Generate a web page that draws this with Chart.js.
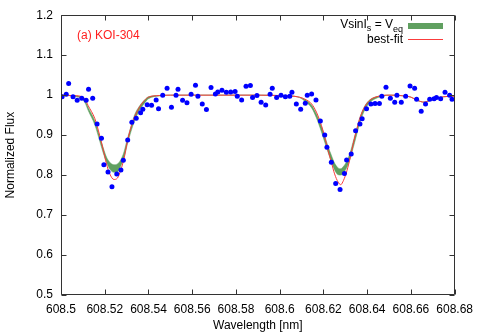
<!DOCTYPE html>
<html><head><meta charset="utf-8">
<script src="https://cdn.jsdelivr.net/npm/chart.js@4"></script>
<style>html,body{margin:0;padding:0;background:#fff}#wrap{width:480px;height:336px;position:relative}</style>
</head><body><div id="wrap"><canvas id="c" width="480" height="336"></canvas></div>
<script>
// observed spectrum
const obsWave = [608.5005,608.5024,608.5035,608.5055,608.5074,608.5095,608.5115,608.5126,608.5145,608.5165,
608.5185,608.5196,608.5215,608.5233,608.5255,608.5274,608.5285,608.5305,608.5324,608.5344,
608.5364,608.5374,608.5394,608.5414,608.5435,608.5446,608.5465,608.5485,608.5505,608.5526,
608.5535,608.5556,608.5576,608.5595,608.5615,608.5626,608.5646,608.5665,608.5686,608.5706,
608.5717,608.5736,608.5756,608.5776,608.5796,608.5806,608.5826,608.5846,608.5866,608.5876,
608.5896,608.5915,608.5936,608.5956,608.5966,608.5986,608.6006,608.6026,608.6046,608.6056,
608.6076,608.6096,608.6117,608.6126,608.6146,608.6166,608.6186,608.6206,608.6216,608.6236,
608.6256,608.6276,608.6296,608.6306,608.6327,608.6347,608.6367,608.6377,608.6397,608.6417,
608.6436,608.6456,608.6467,608.6486,608.6506,608.6526,608.6536,608.6556,608.6576,608.6596,
608.6617,608.6626,608.6647,608.6667,608.6686,608.6706,608.6717,608.6736,608.6756,608.6777,
608.6788];
const obsFlux = [0.996,1.0025,1.029,0.996,0.987,0.992,0.9875,1.015,0.992,0.9275,
0.892,0.826,0.808,0.771,0.803,0.8125,0.837,0.8875,0.932,0.9425,
0.956,0.965,0.976,0.975,0.988,0.966,1.0,1.017,0.97,1.0,
1.015,0.9875,0.981,1.0025,1.025,0.997,0.978,0.964,1.019,1.003,
1.008,1.0125,1.007,1.008,1.009,0.9975,0.988,1.022,1.024,0.994,
0.999,0.9825,0.9755,1.002,1.017,0.994,1.0,0.996,0.9975,1.0075,
0.978,0.965,0.98,0.9995,1.003,0.988,0.935,0.9005,0.8695,0.832,
0.779,0.764,0.804,0.838,0.8525,0.911,0.9275,0.941,0.966,0.978,
0.979,0.979,0.997,1.0195,0.9925,0.982,1.0,0.982,0.997,1.023,
1.017,0.99,0.96,0.978,0.99,0.991,0.994,0.991,1.007,1.0,
0.9895];

// model curves
const fitWave = [608.5,608.505,608.509,608.5109,608.5124,608.5155,608.5177,608.5192,608.5208,608.5223,
608.5242,608.5258,608.5273,608.5288,608.5303,608.5318,608.5336,608.5359,608.5382,608.54,
608.545,608.55,608.56,608.57,608.58,608.59,608.60,608.605,608.609,608.6115,
608.6146,608.6168,608.6191,608.6206,608.6221,608.6236,608.6251,608.6267,608.6279,608.6292,
608.6308,608.6323,608.6338,608.6353,608.6368,608.6388,608.6411,608.645,608.65,608.655,
608.66,608.663,608.666,608.669,608.672,608.675,608.68];
const fitBest = [1.0,0.999,0.997,0.991,0.974,0.941,0.899,0.866,0.828,0.803,
0.789,0.7925,0.812,0.841,0.8825,0.916,0.945,0.97,0.987,0.995,
0.999,1.0,1.0,1.0,1.0,1.0,0.999,0.998,0.995,0.990,
0.978,0.9575,0.924,0.895,0.862,0.8325,0.803,0.7825,0.776,0.787,
0.812,0.845,0.8825,0.916,0.945,0.97,0.987,0.997,1.0,0.999,
0.995,0.987,0.9825,0.9875,0.9925,0.996,0.9975];
const bandHi = [1.0,0.999,0.996,0.988,0.970,0.935,0.897,0.870,0.845,0.832,
0.826,0.828,0.838,0.858,0.890,0.918,0.950,0.973,0.988,0.996,
0.999,1.0,1.0,1.0,1.0,1.0,0.999,0.998,0.995,0.989,
0.975,0.953,0.922,0.898,0.872,0.850,0.830,0.818,0.816,0.822,
0.836,0.858,0.888,0.917,0.946,0.972,0.988,0.997,1.0,0.999,
0.995,0.987,0.9825,0.9875,0.9925,0.996,0.9975];
const bandLo = [1.0,0.998,0.992,0.982,0.962,0.925,0.885,0.857,0.832,0.815,
0.807,0.808,0.822,0.843,0.876,0.905,0.935,0.962,0.980,0.991,
0.998,1.0,1.0,1.0,1.0,1.0,0.999,0.998,0.994,0.985,
0.968,0.943,0.908,0.882,0.857,0.834,0.813,0.801,0.800,0.806,
0.820,0.842,0.872,0.903,0.933,0.962,0.981,0.994,1.0,0.999,
0.995,0.987,0.9825,0.9875,0.9925,0.996,0.9975];

// ticks
const xTicks = [608.5,608.52,608.54,608.56,608.58,608.6,608.62,608.64,608.66,608.68];
const xTickLabels = ['608.5','608.52','608.54','608.56','608.58','608.6','608.62','608.64','608.66','608.68'];
const yTicks = [0.5,0.6,0.7,0.8,0.9,1.0,1.1,1.2];
const yTickLabels = ['0.5','0.6','0.7','0.8','0.9','1','1.1','1.2'];

const FONT = "'Liberation Sans', Arial, Helvetica, sans-serif";
const GREEN = 'rgb(96,160,96)';
const RED = 'rgb(250,60,60)';

function pts(xs, ys){ return xs.map((x,i)=>({x:x, y:ys[i]})); }

const framePlugin = {
  id: 'frame',
  afterDatasetsDraw(chart){
    const {ctx, chartArea:a, scales:{x, y}} = chart;
    ctx.save();
    ctx.strokeStyle = '#333';
    ctx.lineWidth = 1;
    const L = Math.round(a.left)+0.5, R = Math.round(a.right)-0.5, T = Math.round(a.top)+0.5, B = Math.round(a.bottom)-0.5;
    ctx.beginPath();
    ctx.rect(L, T, R-L, B-T);
    xTicks.forEach(v=>{
      const p = Math.round(x.getPixelForValue(v))+0.5;
      ctx.moveTo(p, B); ctx.lineTo(p, B-5);
      ctx.moveTo(p, T); ctx.lineTo(p, T+5);
    });
    yTicks.forEach(v=>{
      const p = Math.round(y.getPixelForValue(v))+0.5;
      ctx.moveTo(L, p); ctx.lineTo(L+5, p);
      ctx.moveTo(R, p); ctx.lineTo(R-5, p);
    });
    ctx.stroke();
    ctx.restore();
  },
  afterDraw(chart){
    const ctx = chart.ctx;
    ctx.save();
    // panel label
    ctx.fillStyle = 'rgb(255,30,30)';
    ctx.font = '12px ' + FONT;
    ctx.textBaseline = 'middle';
    ctx.textAlign = 'left';
    ctx.fillText('(a) KOI-304', 77, 36);
    // legend line 1
    ctx.fillStyle = '#000';
    ctx.textBaseline = 'alphabetic';
    const big = '12px ' + FONT, small = '9px ' + FONT;
    const parts = [['VsinI', big, 0], ['s', small, 3], [' = V', big, 0], ['eq', small, 4]];
    let w = 0;
    parts.forEach(p=>{ ctx.font = p[1]; w += ctx.measureText(p[0]).width; });
    let xx = 403 - w;
    parts.forEach(p=>{ ctx.font = p[1]; ctx.fillText(p[0], xx, 28 + p[2]); xx += ctx.measureText(p[0]).width; });
    ctx.font = big;
    ctx.textAlign = 'right';
    ctx.fillText('best-fit', 403, 43);
    // legend samples
    ctx.fillStyle = GREEN;
    ctx.fillRect(408, 23, 35, 6);
    ctx.fillStyle = RED;
    ctx.fillRect(408, 39, 35, 1);
    ctx.restore();
  }
};

new Chart(document.getElementById('c'), {
  type: 'scatter',
  data: {
    datasets: [
      { label: 'data', data: pts(obsWave, obsFlux), pointRadius: 2.5, pointHoverRadius: 2.5,
        pointBackgroundColor: '#0000ff', pointBorderWidth: 0, showLine: false, order: 0 },
      { label: 'best-fit', data: pts(fitWave, fitBest), showLine: true, pointRadius: 0,
        borderColor: RED, borderWidth: 1, cubicInterpolationMode: 'monotone', fill: false, order: 1 },
      { label: 'band hi', data: pts(fitWave, bandHi), showLine: true, pointRadius: 0,
        borderColor: GREEN, borderWidth: 0.5, backgroundColor: GREEN, cubicInterpolationMode: 'monotone', fill: '+1', order: 2 },
      { label: 'band lo', data: pts(fitWave, bandLo), showLine: true, pointRadius: 0,
        borderColor: GREEN, borderWidth: 0.5, cubicInterpolationMode: 'monotone', fill: false, order: 3 }
    ]
  },
  options: {
    responsive: false,
    animation: false,
    events: [],
    layout: { padding: { top: 15, right: 23, left: 0, bottom: 0 } },
    plugins: { legend: { display: false }, tooltip: { enabled: false }, title: { display: false } },
    scales: {
      x: {
        type: 'linear', min: 608.5, max: 608.68,
        afterBuildTicks: s => { s.ticks = xTicks.map(v => ({ value: v })); },
        afterFit: s => { s.height = 41; },
        grid: { display: false, drawTicks: false }, border: { display: false },
        ticks: { padding: 7, color: '#000', font: { family: FONT, size: 12 }, maxRotation: 0, autoSkip: false,
                 callback: (v, i) => xTickLabels[i] },
        title: { display: true, text: 'Wavelength [nm]', color: '#000', font: { family: FONT, size: 12 }, padding: { top: 0, bottom: 3 } }
      },
      y: {
        type: 'linear', min: 0.5, max: 1.2,
        afterBuildTicks: s => { s.ticks = yTicks.map(v => ({ value: v })); },
        afterFit: s => { s.width = 61; },
        grid: { display: false, drawTicks: false }, border: { display: false },
        ticks: { padding: 8, color: '#000', font: { family: FONT, size: 12 }, autoSkip: false,
                 callback: (v, i) => yTickLabels[i] },
        title: { display: true, text: 'Normalized Flux', color: '#000', font: { family: FONT, size: 12 }, padding: { top: 3, bottom: 0 } }
      }
    }
  },
  plugins: [framePlugin]
});
</script>
</body></html>
